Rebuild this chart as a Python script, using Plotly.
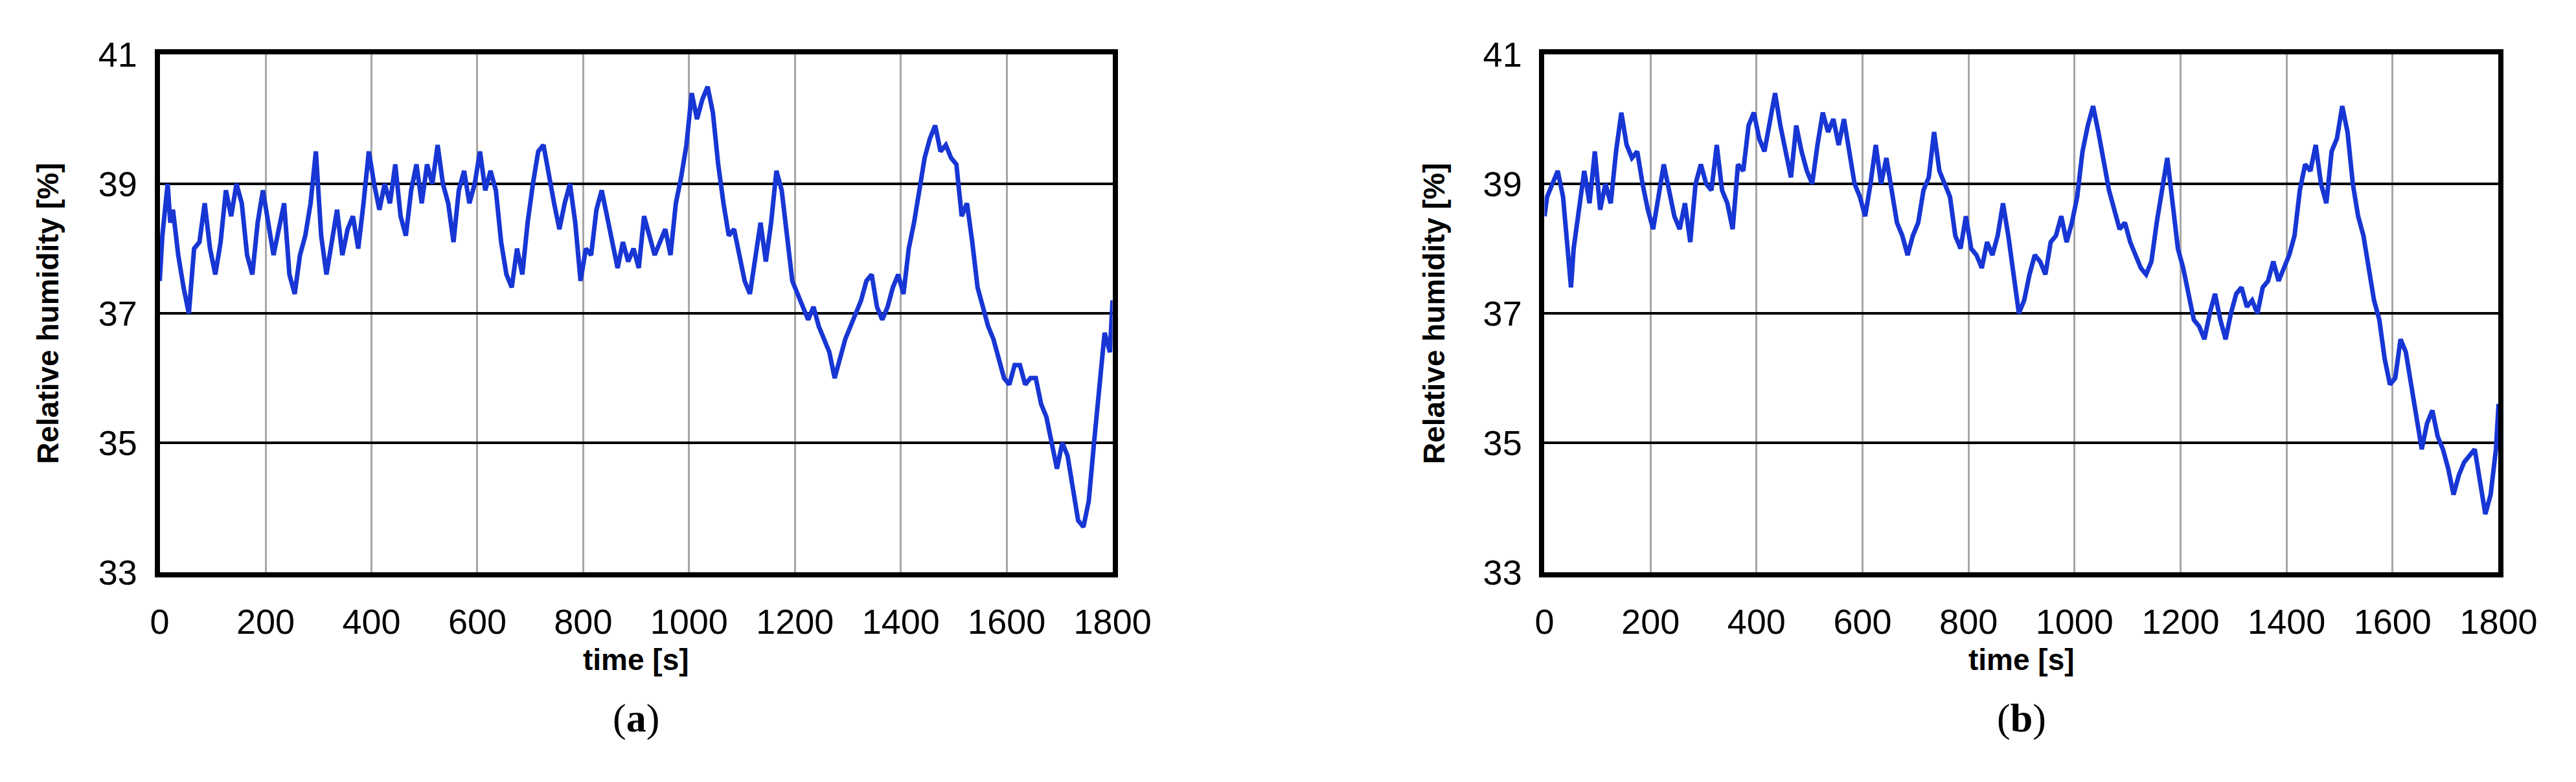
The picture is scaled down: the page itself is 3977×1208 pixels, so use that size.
import plotly.graph_objects as go

t_a = [0,5,15,20,25,35,45,55,65,75,85,95,105,115,125,135,145,155,165,175,185,195,205,215,225,235,245,255,265,275,285,295,305,315,325,335,345,355,365,375,385,395,405,415,425,435,445,455,465,475,485,495,505,515,525,535,545,555,565,575,585,595,605,615,625,635,645,655,665,675,685,695,705,715,725,735,745,755,765,775,785,795,805,815,825,835,845,855,865,875,885,895,905,915,925,935,945,955,965,975,985,995,1005,1015,1025,1035,1045,1055,1065,1075,1085,1095,1105,1115,1125,1135,1145,1155,1165,1175,1185,1195,1205,1215,1225,1235,1245,1255,1265,1275,1285,1295,1305,1315,1325,1335,1345,1355,1365,1375,1385,1395,1405,1415,1425,1435,1445,1455,1465,1475,1485,1495,1505,1515,1525,1535,1545,1555,1565,1575,1585,1595,1605,1615,1625,1635,1645,1655,1665,1675,1685,1695,1705,1715,1725,1735,1745,1755,1765,1775,1785,1795,1800]
rh_a = [37.5,38.2,39.0,38.4,38.6,37.9,37.4,37.0,38.0,38.1,38.7,38.0,37.6,38.1,38.9,38.5,39.0,38.7,37.9,37.6,38.4,38.9,38.4,37.9,38.3,38.7,37.6,37.3,37.9,38.2,38.7,39.5,38.2,37.6,38.1,38.6,37.9,38.3,38.5,38.0,38.7,39.5,39.0,38.6,39.0,38.7,39.3,38.5,38.2,38.9,39.3,38.7,39.3,39.0,39.6,39.0,38.7,38.1,38.9,39.2,38.7,39.0,39.5,38.9,39.2,38.9,38.1,37.6,37.4,38.0,37.6,38.4,39.0,39.5,39.6,39.1,38.7,38.3,38.7,39.0,38.4,37.5,38.0,37.9,38.6,38.9,38.5,38.1,37.7,38.1,37.8,38.0,37.7,38.5,38.2,37.9,38.1,38.3,37.9,38.7,39.1,39.6,40.4,40.0,40.3,40.5,40.1,39.3,38.7,38.2,38.3,37.9,37.5,37.3,37.9,38.4,37.8,38.4,39.2,38.9,38.2,37.5,37.3,37.1,36.9,37.1,36.8,36.6,36.4,36.0,36.3,36.6,36.8,37.0,37.2,37.5,37.6,37.1,36.9,37.1,37.4,37.6,37.3,38.0,38.4,38.9,39.4,39.7,39.9,39.5,39.6,39.4,39.3,38.5,38.7,38.1,37.4,37.1,36.8,36.6,36.3,36.0,35.9,36.2,36.2,35.9,36.0,36.0,35.6,35.4,35.0,34.6,35.0,34.8,34.3,33.8,33.7,34.1,35.0,35.8,36.7,36.4,37.2]

t_b = [0,5,15,25,35,45,50,55,65,75,85,95,105,115,125,135,145,155,165,175,185,195,205,215,225,235,245,255,265,275,285,295,305,315,325,335,345,355,365,375,385,395,405,415,425,435,445,455,465,475,485,495,505,515,525,535,545,555,565,575,585,595,605,615,625,635,645,655,665,675,685,695,705,715,725,735,745,755,765,775,785,795,805,815,825,835,845,855,865,875,885,895,905,915,925,935,945,955,965,975,985,995,1005,1015,1025,1035,1045,1055,1065,1075,1085,1095,1105,1115,1125,1135,1145,1155,1165,1175,1185,1195,1205,1215,1225,1235,1245,1255,1265,1275,1285,1295,1305,1315,1325,1335,1345,1355,1365,1375,1385,1395,1405,1415,1425,1435,1445,1455,1465,1475,1485,1495,1505,1515,1525,1535,1545,1555,1565,1575,1585,1595,1605,1615,1625,1635,1645,1655,1665,1675,1685,1695,1705,1715,1725,1735,1745,1755,1765,1775,1785,1795,1800]
rh_b = [38.5,38.8,39.0,39.2,38.8,37.9,37.4,38.0,38.6,39.2,38.7,39.5,38.6,39.0,38.7,39.5,40.1,39.6,39.4,39.5,39.0,38.6,38.3,38.8,39.3,38.9,38.5,38.3,38.7,38.1,39.0,39.3,39.0,38.9,39.6,38.9,38.7,38.3,39.3,39.2,39.9,40.1,39.7,39.5,40.0,40.4,39.9,39.5,39.1,39.9,39.5,39.2,39.0,39.6,40.1,39.8,40.0,39.6,40.0,39.5,39.0,38.8,38.5,39.0,39.6,39.0,39.4,38.9,38.4,38.2,37.9,38.2,38.4,38.9,39.1,39.8,39.2,39.0,38.8,38.2,38.0,38.5,38.0,37.9,37.7,38.1,37.9,38.2,38.7,38.2,37.6,37.0,37.2,37.6,37.9,37.8,37.6,38.1,38.2,38.5,38.1,38.4,38.8,39.5,39.9,40.2,39.8,39.3,38.9,38.6,38.3,38.4,38.1,37.9,37.7,37.6,37.8,38.4,38.9,39.4,38.7,38.0,37.7,37.3,36.9,36.8,36.6,37.0,37.3,36.9,36.6,37.0,37.3,37.4,37.1,37.2,37.0,37.4,37.5,37.8,37.5,37.7,37.9,38.2,38.9,39.3,39.2,39.6,39.0,38.7,39.5,39.7,40.2,39.8,39.0,38.5,38.2,37.7,37.2,36.9,36.3,35.9,36.0,36.6,36.4,35.9,35.4,34.9,35.3,35.5,35.1,34.9,34.6,34.2,34.5,34.7,34.8,34.9,34.4,33.9,34.2,34.9,35.6]

x_ticks = [0,200,400,600,800,1000,1200,1400,1600,1800]
y_ticks = [33,35,37,39,41]

BLUE = "#1736d4"
fig = go.Figure()
fig.add_trace(go.Scatter(x=t_a, y=rh_a, mode="lines", line=dict(color=BLUE, width=7), xaxis="x", yaxis="y"))
fig.add_trace(go.Scatter(x=t_b, y=rh_b, mode="lines", line=dict(color=BLUE, width=7), xaxis="x2", yaxis="y2"))

tickfont = dict(family="Liberation Sans Narrow, Liberation Sans, Arial", size=54, color="black")
def xax(dom, anchor):
    return dict(domain=dom, anchor=anchor, range=[0,1800], tickvals=x_ticks, showgrid=True,
                gridcolor="#a6a6a6", gridwidth=3, showline=True, linecolor="black", linewidth=8,
                mirror=True, ticks="", tickfont=tickfont, ticklabelstandoff=22, zeroline=False)
def yax(anchor):
    return dict(domain=[0.263,0.960], anchor=anchor, range=[33,41], tickvals=y_ticks, showgrid=True,
                gridcolor="black", gridwidth=4, showline=True, linecolor="black", linewidth=8,
                mirror=True, ticks="", tickfont=tickfont, ticklabelstandoff=16, zeroline=False)

fig.update_layout(
    width=3977, height=1208, margin=dict(l=0,r=0,t=0,b=0),
    paper_bgcolor="white", plot_bgcolor="white", showlegend=False,
    xaxis=xax([0.0573,0.4343],"y"), yaxis=yax("x"),
    xaxis2=xax([0.6052,0.9827],"y2"), yaxis2=yax("x2"),
)
tf = dict(family="Liberation Sans, Arial", size=46, color="black")
ann = []
for cx, lx, lab in [(0.2458, 0.013, "a"), (0.794, 0.5615, "b")]:
    ann.append(dict(text="<b>time [s]</b>", x=cx, y=1-1032/1208, xref="paper", yref="paper",
                    showarrow=False, font=tf, xanchor="center", yanchor="middle"))
    ann.append(dict(text="<b>Relative humidity [%]</b>", x=lx, y=0.6115, xref="paper", yref="paper",
                    showarrow=False, font=tf, textangle=-90, xanchor="center", yanchor="middle"))
    ann.append(dict(text="(<b>%s</b>)" % lab, x=cx, y=1-1128/1208, xref="paper", yref="paper",
                    showarrow=False, font=dict(family="Liberation Serif, Times New Roman", size=62, color="black"),
                    xanchor="center", yanchor="middle"))
fig.update_layout(annotations=ann)
fig.write_html("out.html")
